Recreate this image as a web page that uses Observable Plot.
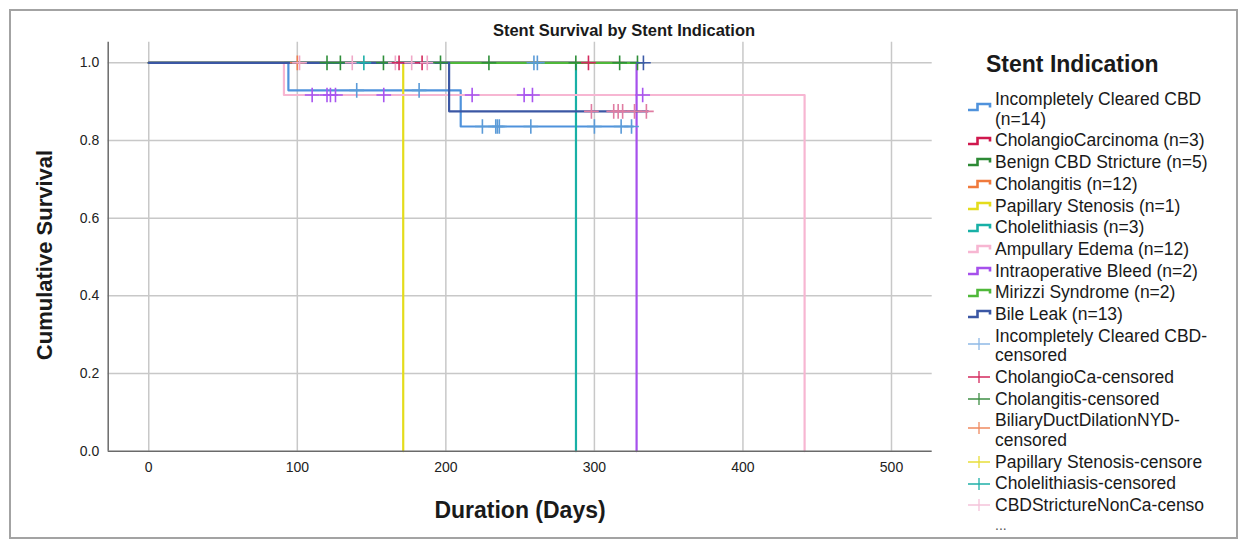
<!DOCTYPE html>
<html>
<head>
<meta charset="utf-8">
<script src="https://cdn.jsdelivr.net/npm/d3@7"></script>
<script src="https://cdn.jsdelivr.net/npm/@observablehq/plot@0.6"></script>
<style>
html, body { margin: 0; padding: 0; background: #fff; }
#root { position: relative; width: 1239px; height: 540px; overflow: hidden; font-family: "Liberation Sans", Arial, sans-serif; color: #1a1a1a; background: #fff; }
#border { position: absolute; left: 9px; top: 9px; width: 1229px; height: 530px; box-sizing: border-box; border: 2px solid #a3a3a3; }
#plot { position: absolute; left: 0; top: 0; }
.title { position: absolute; left: 0; width: 1248px; top: 21px; text-align: center; font-family: "Liberation Sans Narrow", "Arial Narrow", "Liberation Sans", sans-serif; font-weight: bold; font-size: 16.5px; line-height: 18px; }
.ylab { position: absolute; left: 45px; top: 255px; transform: translate(-50%, -50%) rotate(-90deg); font-weight: bold; font-size: 22px; white-space: nowrap; }
.xlab { position: absolute; left: 520px; top: 510px; transform: translate(-50%, -50%); font-weight: bold; font-size: 23px; white-space: nowrap; }
.ltitle { position: absolute; left: 986px; top: 64px; transform: translateY(-50%); font-weight: bold; font-size: 23px; white-space: nowrap; }
.lline { position: absolute; left: 995px; font-size: 17.5px; line-height: 19.5px; height: 19.5px; white-space: nowrap; }
.lsw { position: absolute; left: 966px; }
</style>
</head>
<body>
<div id="root">
  <div id="border"></div>
  <div id="plot"></div>
  <div class="title">Stent Survival by Stent Indication</div>
  <div class="ylab">Cumulative Survival</div>
  <div class="xlab">Duration (Days)</div>
  <div class="ltitle">Stent Indication</div>
</div>
<script>
// ---------------- DATA ----------------
const xTicks = [0, 100, 200, 300, 400, 500];
const yTicks = [0, 0.2, 0.4, 0.6, 0.8, 1.0];

const groupNames = [
  "Incompletely Cleared CBD (n=14)",
  "CholangioCarcinoma (n=3)",
  "Benign CBD Stricture (n=5)",
  "Cholangitis (n=12)",
  "Papillary Stenosis (n=1)",
  "Cholelithiasis (n=3)",
  "Ampullary Edema (n=12)",
  "Intraoperative Bleed (n=2)",
  "Mirizzi Syndrome (n=2)",
  "Bile Leak (n=13)"
];
// Kaplan-Meier step points per group (day, cumulative survival)
const curveDays = [
  [0, 94, 210, 326],
  [0, 296],
  [0, 329],
  [0, 320],
  [0, 171.3],
  [0, 287.6],
  [0, 91, 441.5],
  [0, 328.4],
  [0, 330],
  [0, 202.2, 336]
];
const curveSurv = [
  [1, 0.929, 0.836, 0.836],
  [1, 1],
  [1, 1],
  [1, 1],
  [1, 0],
  [1, 0],
  [1, 0.917, 0],
  [1, 0],
  [1, 1],
  [1, 0.875, 0.875]
];

const censorCats = [
  "Incompletely Cleared CBD-censored",
  "CholangioCa-censored",
  "Cholangitis-censored",
  "BiliaryDuctDilationNYD-censored",
  "Papillary Stenosis-censored",
  "Cholelithiasis-censored",
  "CBDStrictureNonCa-censored",
  "Intraoperative Bleed-censored",
  "Bile Leak-censored",
  "Mirizzi Syndrome-censored"
];
const censorDay = [
  100, 101.5, 120, 129, 137, 144.8, 158, 166, 168.5, 177, 184, 187.5, 196.4, 229, 259.3, 261.6, 287.5, 296, 317, 329, 333,
  140, 182,
  110, 120, 122.3, 125.7, 158.2, 217.7, 252.7, 258.3, 332.5,
  298, 313, 316, 319, 327, 335,
  224.6, 233.6, 234.7, 236, 257.2, 300, 318, 325
];
const censorSurv = [
  1, 1, 1, 1, 1, 1, 1, 1, 1, 1, 1, 1, 1, 1, 1, 1, 1, 1, 1, 1, 1,
  0.929, 0.929,
  0.917, 0.917, 0.917, 0.917, 0.917, 0.917, 0.917, 0.917, 0.917,
  0.875, 0.875, 0.875, 0.875, 0.875, 0.875,
  0.836, 0.836, 0.836, 0.836, 0.836, 0.836, 0.836, 0.836
];
const censorCat = [
  3, 6, 2, 2, 6, 5, 2, 6, 1, 6, 1, 6, 2, 2, 0, 0, 2, 1, 2, 2, 9,
  0, 0,
  7, 7, 7, 7, 7, 7, 7, 7, 7,
  8, 8, 8, 8, 8, 8,
  0, 0, 0, 0, 0, 0, 0, 0
];

const lineLegend = [
  ["Incompletely Cleared CBD", "(n=14)"],
  ["CholangioCarcinoma (n=3)"],
  ["Benign CBD Stricture (n=5)"],
  ["Cholangitis (n=12)"],
  ["Papillary Stenosis (n=1)"],
  ["Cholelithiasis (n=3)"],
  ["Ampullary Edema (n=12)"],
  ["Intraoperative Bleed (n=2)"],
  ["Mirizzi Syndrome (n=2)"],
  ["Bile Leak (n=13)"]
];
const censorLegend = [
  ["Incompletely Cleared CBD-", "censored"],
  ["CholangioCa-censored"],
  ["Cholangitis-censored"],
  ["BiliaryDuctDilationNYD-", "censored"],
  ["Papillary Stenosis-censore"],
  ["Cholelithiasis-censored"],
  ["CBDStrictureNonCa-censo"]
];

// ---------------- STYLE ----------------
const lineColors = ["#4f92dc", "#d0184e", "#2d8a35", "#f07a3c", "#e4dc1c", "#18b0a6", "#f7b6d2", "#a650ec", "#4fb83a", "#3b57a4"];
const censorColors = ["#5b9bd8", "#d42a5e", "#2f8f3a", "#f08050", "#e6dc30", "#1fb0a8", "#f0a8c8", "#a855f0", "#e07ca2", "#3d5ba8"];
const censorSwatch = ["#8fb9e6", "#d42a5e", "#3f8f45", "#f08a60", "#e8de3a", "#1fb0a8", "#f5c3da"];
const xDomain = [-27.3, 527.4];
const yDomain = [0, 1.053];

// ---------------- BUILD ----------------
const curveRows = groupNames.map((g, i) => curveDays[i].map((d, j) => ({group: g, day: d, surv: curveSurv[i][j]})));
const censorRows = censorDay.map((d, i) => ({day: d, surv: censorSurv[i], cat: censorCats[censorCat[i]]}));

const chart = Plot.plot({
  width: 940,
  height: 490,
  marginLeft: 107.7,
  marginRight: 8.3,
  marginTop: 41.7,
  marginBottom: 39.3,
  style: {fontFamily: '"Liberation Sans", Arial, sans-serif', fontSize: "14px", color: "#222", background: "transparent", overflow: "visible"},
  x: {domain: xDomain, ticks: xTicks, tickSize: 0, tickPadding: 11, label: null},
  y: {domain: yDomain, ticks: yTicks, tickSize: 0, tickPadding: 9, tickFormat: d3.format(".1f"), label: null},
  color: {domain: censorCats, range: censorColors},
  marks: [
    Plot.ruleX(xTicks, {stroke: "#c8c8c8", strokeWidth: 1.5}),
    Plot.ruleY(yTicks.filter(d => d > 0), {stroke: "#c8c8c8", strokeWidth: 1.5}),
    ...curveRows.map((rows, i) => Plot.line(rows, {x: "day", y: "surv", stroke: lineColors[i], strokeWidth: 2.2, curve: "step-after"})),
    Plot.dot(censorRows, {x: "day", y: "surv", symbol: "plus", r: 4.8, stroke: "cat", fill: "none", strokeWidth: 1.6}),
    Plot.ruleX([xDomain[0]], {stroke: "#6a6a6a", strokeWidth: 1.5}),
    Plot.ruleY([yDomain[0]], {stroke: "#6a6a6a", strokeWidth: 1.5})
  ]
});
document.getElementById("plot").appendChild(chart);

// Legend
const root = document.getElementById("root");
const W = 19.5, P = 21.7;
let y = 100;  // centre of the first line of the current item
const NS = "http://www.w3.org/2000/svg";
function addItem(lines, kind, color) {
  lines.forEach((t, k) => {
    const div = document.createElement("div");
    div.className = "lline";
    div.style.top = (y + k * W - W / 2) + "px";
    div.textContent = t;
    root.appendChild(div);
  });
  const cy = y + W * (lines.length - 1) / 2 - (lines.length > 1 ? 2.5 : 0.5);
  const svg = document.createElementNS(NS, "svg");
  svg.setAttribute("width", 28); svg.setAttribute("height", 16);
  svg.setAttribute("class", "lsw");
  svg.style.top = (cy - 8) + "px";
  const p = document.createElementNS(NS, "path");
  if (kind === "line") {
    p.setAttribute("d", "M2,11 H11.5 V5 H24 V8.5");
    p.setAttribute("stroke-width", 2.6);
  } else {
    p.setAttribute("d", "M2,8 H24 M13,2 V14");
    p.setAttribute("stroke-width", 1.3);
  }
  p.setAttribute("stroke", color);
  p.setAttribute("fill", "none");
  svg.appendChild(p);
  root.appendChild(svg);
  y += W * (lines.length - 1) + P;
}
lineLegend.forEach((l, i) => addItem(l, "line", lineColors[i]));
censorLegend.forEach((l, i) => addItem(l, "cross", censorSwatch[i]));
const more = document.createElement("div");
more.className = "lline";
more.style.top = (y - W / 2 - 2) + "px";
more.style.fontSize = "14px";
more.style.color = "#555";
more.textContent = "...";
root.appendChild(more);
</script>
</body>
</html>
